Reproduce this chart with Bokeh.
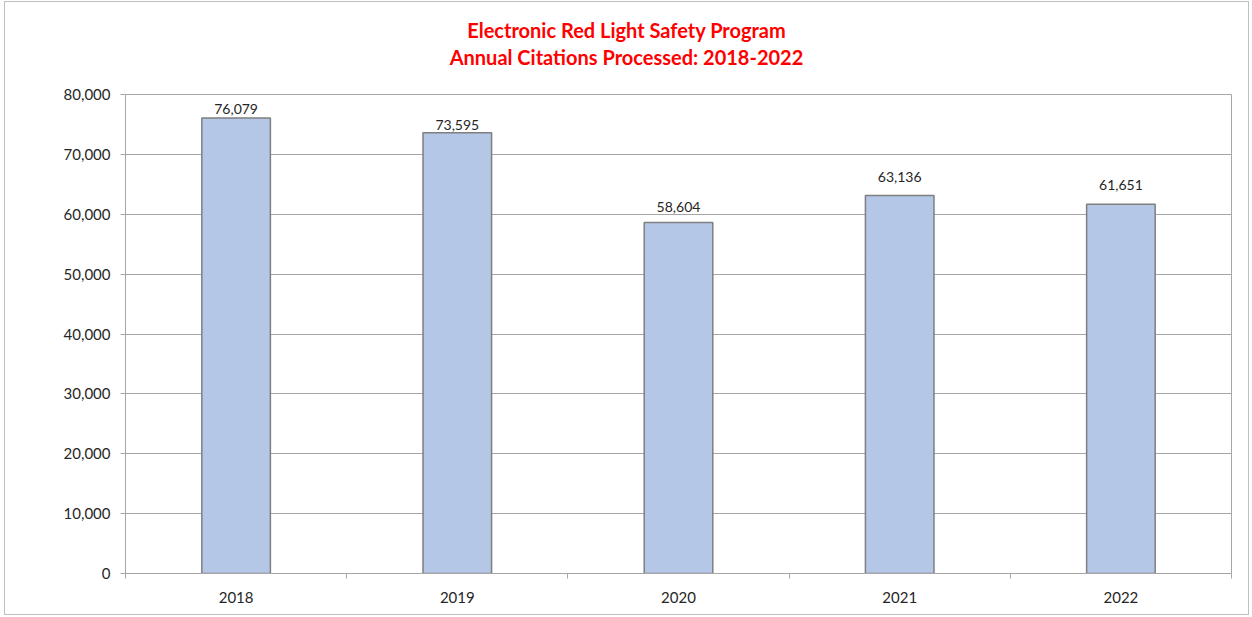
from bokeh.plotting import figure
from bokeh.models import ColumnDataSource, FixedTicker, NumeralTickFormatter, Range1d, Div
from bokeh.layouts import column
from bokeh.core.properties import value
from bokeh.embed import file_html
from bokeh.resources import INLINE

years = ["2018", "2019", "2020", "2021", "2022"]
citations = [76079, 73595, 58604, 63136, 61651]
y_ticks = [0, 10000, 20000, 30000, 40000, 50000, 60000, 70000, 80000]
title_lines = ["Electronic Red Light Safety Program", "Annual Citations Processed: 2018-2022"]

# vertical gap (px) between each data label's centre and its bar top, as placed in the original
label_gap = [9, 8, 16, 18, 19]

xpos = list(range(1, len(years) + 1))
src = ColumnDataSource(dict(
    x=xpos,
    top=citations,
    label=[f"{v:,}" for v in citations],
    yoff=[-g for g in label_gap],
))

FONT = "Lato"
GRAY = "#a6a6a6"
W = 1243

title_html = '<div style="padding-top:15px">' + "<br>".join(title_lines) + "</div>"
title = Div(text=title_html, width=W, height=70, margin=0,
            styles={"text-align": "center", "color": "#ff0000", "font-weight": "bold",
                    "font-family": FONT, "font-size": "20px", "line-height": "27px"})

p = figure(width=W, height=542, output_backend="svg", toolbar_location=None,
           title=None, margin=0,
           x_range=Range1d(0.5, len(years) + 0.5), y_range=Range1d(0, 80000),
           min_border_left=120, min_border_right=17, min_border_top=22, min_border_bottom=41,
           frame_width=1106, frame_height=479)

p.vbar(x="x", top="top", width=0.31, source=src, fill_color="#b4c7e7",
       line_color="#7f7f7f", line_width=1.5)
p.text(x="x", y="top", text="label", source=src, text_align="center",
       text_baseline="middle", y_offset="yoff", text_font=value(FONT),
       text_font_size="14px", text_color="#262626")

p.outline_line_color = GRAY
p.outline_line_width = 1
p.background_fill_color = "white"
p.border_fill_color = "white"

p.xgrid.visible = False
p.ygrid.grid_line_color = GRAY
p.ygrid.grid_line_width = 1
p.ygrid.ticker = FixedTicker(ticks=y_ticks)

xa = p.xaxis[0]
xa.ticker = FixedTicker(ticks=xpos, minor_ticks=[i + 0.5 for i in range(len(years) + 1)])
xa.major_label_overrides = {i + 1: y for i, y in enumerate(years)}
xa.major_tick_out = 0
xa.major_tick_in = 0
xa.minor_tick_out = 5
xa.minor_tick_in = 0
xa.minor_tick_line_color = GRAY
xa.axis_line_color = GRAY
xa.major_label_text_font = FONT
xa.major_label_text_font_size = "15px"
xa.major_label_text_color = "#262626"
xa.major_label_standoff = 13

ya = p.yaxis[0]
ya.ticker = FixedTicker(ticks=y_ticks)
ya.formatter = NumeralTickFormatter(format="0,0")
ya.major_tick_out = 5
ya.major_tick_in = 0
ya.minor_tick_out = 0
ya.minor_tick_in = 0
ya.major_tick_line_color = GRAY
ya.axis_line_color = GRAY
ya.major_label_text_font = FONT
ya.major_label_text_font_size = "15px"
ya.major_label_text_color = "#262626"
ya.major_label_standoff = 10

layout = column(title, p, spacing=0,
                styles={"outline": "1px solid #bfbfbf", "margin-left": "5px",
                        "margin-top": "2px", "background-color": "white"})

open("out.html", "w").write(file_html(layout, INLINE))
